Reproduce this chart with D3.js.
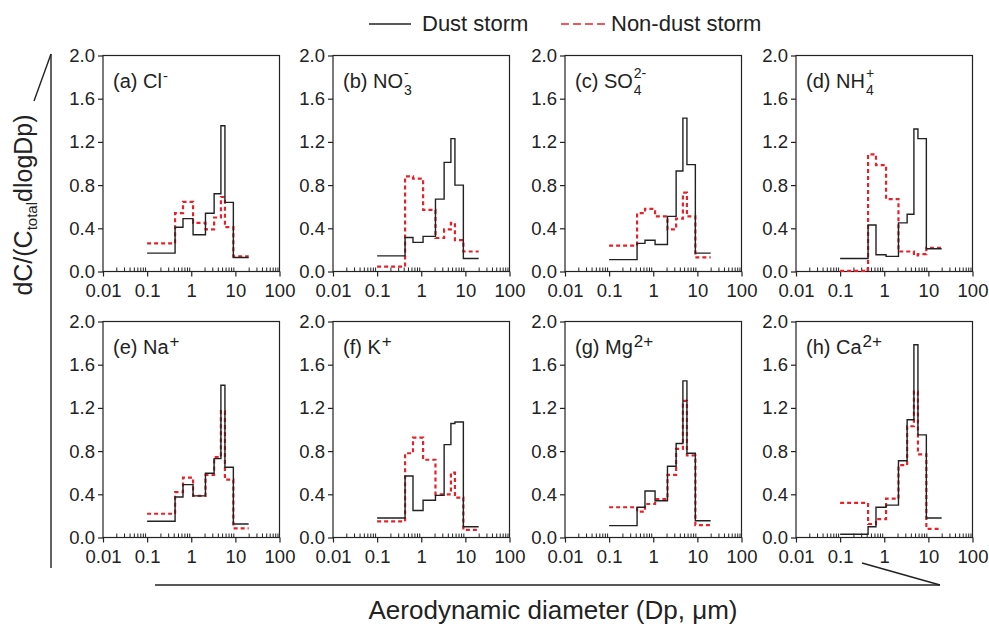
<!DOCTYPE html>
<html>
<head>
<meta charset="utf-8">
<script src="https://cdn.jsdelivr.net/npm/d3@7"></script>
<style>
  body { margin: 0; background: #fff; }
  svg { font-family: "Liberation Sans", Arial, sans-serif; }
</style>
</head>
<body>
<div id="chart"></div>
<script>
// impactor stage boundaries (um)
const binEdges = [0.1, 0.43, 0.65, 1.1, 2.1, 3.3, 4.7, 5.8, 9.0, 20];
const xTicks = [0.01, 0.1, 1, 10, 100];
const yTicks = [0, 0.4, 0.8, 1.2, 1.6, 2.0];
const seriesNames = ["Dust storm", "Non-dust storm"];

// dC/(Ctotal dlogDp) per stage
const clDust = [0.17, 0.41, 0.49, 0.34, 0.54, 0.72, 1.35, 0.64, 0.13];
const clNon = [0.26, 0.54, 0.645, 0.45, 0.39, 0.50, 0.69, 0.41, 0.14];
const no3Dust = [0.145, 0.315, 0.27, 0.325, 0.67, 1.01, 1.23, 0.80, 0.12];
const no3Non = [0.045, 0.88, 0.86, 0.57, 0.31, 0.39, 0.45, 0.29, 0.185];
const so4Dust = [0.11, 0.26, 0.29, 0.25, 0.51, 0.93, 1.42, 0.99, 0.17];
const so4Non = [0.24, 0.54, 0.58, 0.51, 0.39, 0.49, 0.73, 0.51, 0.13];
const nh4Dust = [0.12, 0.43, 0.155, 0.14, 0.45, 0.53, 1.32, 1.23, 0.21];
const nh4Non = [0.005, 1.085, 0.985, 0.67, 0.185, 0.185, 0.15, 0.16, 0.22];
const naDust = [0.15, 0.375, 0.49, 0.385, 0.595, 0.73, 1.41, 0.65, 0.125];
const naNon = [0.22, 0.42, 0.555, 0.385, 0.58, 0.745, 1.17, 0.535, 0.085];
const kDust = [0.18, 0.57, 0.25, 0.345, 0.39, 0.86, 1.055, 1.07, 0.10];
const kNon = [0.15, 0.78, 0.925, 0.72, 0.40, 0.40, 0.60, 0.37, 0.07];
const mgDust = [0.11, 0.28, 0.43, 0.34, 0.66, 0.87, 1.45, 0.78, 0.155];
const mgNon = [0.28, 0.24, 0.31, 0.355, 0.58, 0.82, 1.265, 0.76, 0.115];
const caDust = [0.03, 0.10, 0.28, 0.30, 0.71, 1.09, 1.785, 0.95, 0.18];
const caNon = [0.32, 0.125, 0.17, 0.36, 0.67, 1.03, 1.35, 0.77, 0.08];

// panel label parts: text, subscript, superscript
const panels = [
  { tag: "(a) Cl", sub: "", sup: "-", dust: clDust, non: clNon },
  { tag: "(b) NO", sub: "3", sup: "-", dust: no3Dust, non: no3Non },
  { tag: "(c) SO", sub: "4", sup: "2-", dust: so4Dust, non: so4Non },
  { tag: "(d) NH", sub: "4", sup: "+", dust: nh4Dust, non: nh4Non },
  { tag: "(e) Na", sub: "", sup: "+", dust: naDust, non: naNon },
  { tag: "(f) K", sub: "", sup: "+", dust: kDust, non: kNon },
  { tag: "(g) Mg", sub: "", sup: "2+", dust: mgDust, non: mgNon },
  { tag: "(h) Ca", sub: "", sup: "2+", dust: caDust, non: caNon },
];

const W = 989, H = 629;
const colLeft = [103, 333, 565, 796];
const rowTop = [55.5, 321.5];
const pw = 176.5, ph = 216;
const ink = "#222";
const red = "#e8202a";

const svg = d3.select("#chart").append("svg")
  .attr("width", W).attr("height", H);

// step points: each stage value held from its lower edge to the next edge
function stepPoints(vals) {
  const pts = vals.map((v, i) => [binEdges[i], v]);
  pts.push([binEdges[binEdges.length - 1], vals[vals.length - 1]]);
  return pts;
}

const minorTicks = [];
for (let e = -2; e < 2; e++) {
  for (let m = 2; m <= 9; m++) minorTicks.push(m * Math.pow(10, e));
}

panels.forEach((p, i) => {
  const left = colLeft[i % 4], top = rowTop[Math.floor(i / 4)];
  const g = svg.append("g").attr("transform", `translate(${left},${top})`);

  const x = d3.scaleLog().domain([0.01, 100]).range([0, pw]);
  const y = d3.scaleLinear().domain([0, 2]).range([ph, 0]);

  // frame
  g.append("rect")
    .attr("width", pw).attr("height", ph)
    .attr("fill", "none").attr("stroke", ink).attr("stroke-width", 1.2);

  // y axis
  const ya = g.append("g")
    .call(d3.axisLeft(y).tickValues(yTicks).tickFormat(d3.format(".1f"))
      .tickSize(5).tickPadding(3));
  ya.select(".domain").remove();
  ya.selectAll("line").attr("stroke", ink).attr("stroke-width", 1.2);
  ya.selectAll("text").attr("fill", ink).style("font-size", "18.5px")
    .attr("font-family", null);

  // x axis, major ticks
  const xa = g.append("g").attr("transform", `translate(0,${ph})`)
    .call(d3.axisBottom(x).tickValues(xTicks).tickFormat((d) => String(d))
      .tickSize(5).tickPadding(7));
  xa.select(".domain").remove();
  xa.selectAll("line").attr("stroke", ink).attr("stroke-width", 1.2);
  xa.selectAll("text").attr("fill", ink).style("font-size", "18.5px")
    .attr("font-family", null);

  // x axis, minor ticks pointing inward
  const xm = g.append("g").attr("transform", `translate(0,${ph})`)
    .call(d3.axisBottom(x).tickValues(minorTicks).tickFormat("")
      .tickSize(-4));
  xm.select(".domain").remove();
  xm.selectAll("line").attr("stroke", ink).attr("stroke-width", 1);

  const line = d3.line()
    .x((d) => x(d[0]))
    .y((d) => y(d[1]))
    .curve(d3.curveStepAfter);

  g.append("path").datum(stepPoints(p.non))
    .attr("d", line).attr("fill", "none")
    .attr("stroke", red).attr("stroke-width", 2.2)
    .attr("stroke-dasharray", "4,3");

  g.append("path").datum(stepPoints(p.dust))
    .attr("d", line).attr("fill", "none")
    .attr("stroke", ink).attr("stroke-width", 1.4);

  // panel title with chemical sub/superscripts
  const t = g.append("text")
    .attr("x", 10).attr("y", 32)
    .attr("fill", ink).style("font-size", "20px")
    .text(p.tag);
  if (p.sub) {
    t.append("tspan").attr("dx", 1).attr("dy", 7)
      .style("font-size", "14px").text(p.sub);
    const sw = p.sub.length * 7.8;
    t.append("tspan").attr("dx", -sw).attr("dy", -17)
      .style("font-size", "14px").text(p.sup);
  } else {
    t.append("tspan").attr("dx", 1).attr("dy", -7)
      .style("font-size", p.sup === "-" ? "15px" : "17px").text(p.sup);
  }
});

// legend
const legend = svg.append("g");
legend.append("line")
  .attr("x1", 369).attr("x2", 411).attr("y1", 24).attr("y2", 24)
  .attr("stroke", ink).attr("stroke-width", 1.6);
legend.append("text").attr("x", 422).attr("y", 31)
  .attr("fill", ink).style("font-size", "22px").text(seriesNames[0]);
legend.append("line")
  .attr("x1", 561).attr("x2", 608).attr("y1", 24).attr("y2", 24)
  .attr("stroke", red).attr("stroke-width", 1.6)
  .attr("stroke-dasharray", "8,4");
legend.append("text").attr("x", 611).attr("y", 31)
  .attr("fill", ink).style("font-size", "22px").text(seriesNames[1]);

// y title with its bracket line
svg.append("line")
  .attr("x1", 51).attr("x2", 51).attr("y1", 54).attr("y2", 568)
  .attr("stroke", ink).attr("stroke-width", 1.4);
svg.append("line")
  .attr("x1", 51).attr("x2", 34).attr("y1", 54).attr("y2", 101)
  .attr("stroke", ink).attr("stroke-width", 1.4);
const yt = svg.append("text")
  .attr("transform", "translate(32,205) rotate(-90)")
  .attr("text-anchor", "middle")
  .attr("fill", ink).style("font-size", "25px")
  .text("dC/(C");
yt.append("tspan").attr("dy", 5).style("font-size", "15px").text("total");
yt.append("tspan").attr("dy", -5).text("dlogDp)");

// x title with its bracket line
svg.append("line")
  .attr("x1", 155).attr("x2", 940).attr("y1", 585).attr("y2", 585)
  .attr("stroke", ink).attr("stroke-width", 1.4);
svg.append("line")
  .attr("x1", 862).attr("x2", 940).attr("y1", 563).attr("y2", 585)
  .attr("stroke", ink).attr("stroke-width", 1.4);
svg.append("text")
  .attr("x", 553).attr("y", 619)
  .attr("text-anchor", "middle")
  .attr("fill", ink).style("font-size", "26px")
  .text("Aerodynamic diameter (Dp, \u03bcm)");
</script>
</body>
</html>
